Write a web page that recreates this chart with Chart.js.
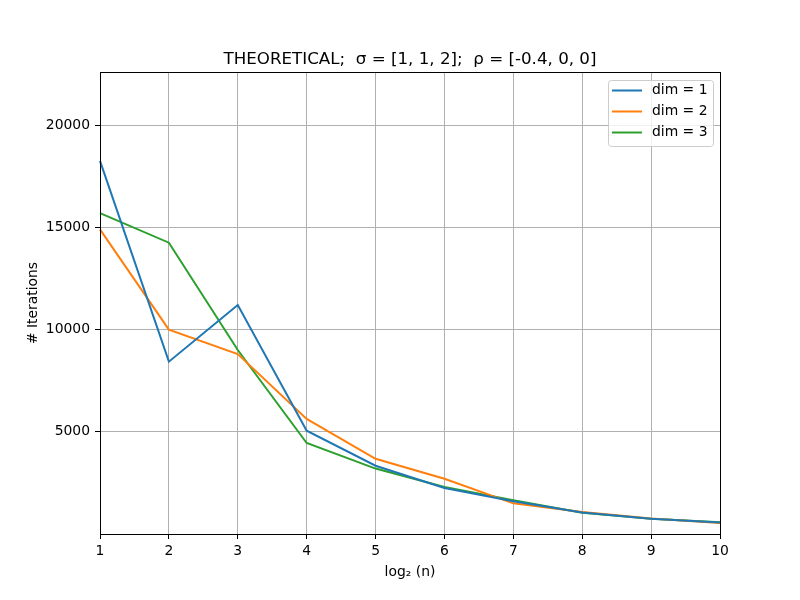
<!DOCTYPE html>
<html>
<head>
<meta charset="utf-8">
<script src="https://cdn.jsdelivr.net/npm/chart.js@4.4.1/dist/chart.umd.min.js"></script>
<style>
html,body{margin:0;padding:0;background:#fff;}
canvas{display:block;}
</style>
</head>
<body>
<canvas id="c" width="800" height="600"></canvas>
<script>
const categories = ['1','2','3','4','5','6','7','8','9','10'];
const dim1 = [18250, 8430, 11200, 5050, 3340, 2250, 1600, 1050, 750, 560];
const dim2 = [14900, 10000, 8800, 5630, 3680, 2700, 1500, 1080, 760, 540];
const dim3 = [15700, 14250, 9000, 4450, 3200, 2300, 1650, 1040, 740, 570];
const seriesLabels = ['dim = 1', 'dim = 2', 'dim = 3'];
const yTicks = [5000, 10000, 15000, 20000];
const titleText = 'THEORETICAL;  \u03c3 = [1, 1, 2];  \u03c1 = [-0.4, 0, 0]';
const xTitle = 'log\u2082 (n)';
const yTitle = '# Iterations';

Chart.defaults.font.family = "'DejaVu Sans', sans-serif";
Chart.defaults.color = '#000';

const FS = 13.9;

const framePlugin = {
  id: 'frame',
  afterDatasetsDraw(chart) {
    const {ctx, chartArea: a} = chart;
    ctx.save();
    ctx.strokeStyle = '#000';
    ctx.lineWidth = 1;
    const l = Math.round(a.left), t = Math.round(a.top), r = Math.round(a.right), b = Math.round(a.bottom);
    ctx.strokeRect(l + 0.5, t + 0.5, r - l, b - t);
    ctx.restore();
  },
  afterDraw(chart) {
    const {ctx, chartArea: a} = chart;
    const ds = chart.data.datasets;
    const w = 105, h = 66;
    const x0 = Math.round(a.right) - 7 - w, y0 = Math.round(a.top) + 8;
    ctx.save();
    ctx.fillStyle = 'rgba(255,255,255,0.8)';
    ctx.strokeStyle = '#cccccc';
    ctx.lineWidth = 1;
    ctx.beginPath();
    ctx.roundRect(x0 + 0.5, y0 + 0.5, w, h, 3);
    ctx.fill();
    ctx.stroke();
    ctx.font = FS + "px 'DejaVu Sans'";
    ctx.textBaseline = 'middle';
    ctx.textAlign = 'left';
    ds.forEach((d, i) => {
      const yy = y0 + 10.5 + i * 21;
      ctx.strokeStyle = d.borderColor;
      ctx.lineWidth = 2;
      ctx.beginPath();
      ctx.moveTo(x0 + 4, yy);
      ctx.lineTo(x0 + 34, yy);
      ctx.stroke();
      ctx.fillStyle = '#000';
      ctx.fillText(d.label, x0 + 44, yy);
    });
    ctx.restore();
  }
};

new Chart(document.getElementById('c'), {
  type: 'line',
  data: {
    labels: categories,
    datasets: [
      {label: seriesLabels[0], data: dim1, borderColor: '#1f77b4', backgroundColor: '#1f77b4'},
      {label: seriesLabels[1], data: dim2, borderColor: '#ff7f0e', backgroundColor: '#ff7f0e'},
      {label: seriesLabels[2], data: dim3, borderColor: '#2ca02c', backgroundColor: '#2ca02c'}
    ]
  },
  options: {
    responsive: false,
    animation: false,
    devicePixelRatio: 1,
    elements: {
      line: {borderWidth: 2, tension: 0},
      point: {radius: 0, hoverRadius: 0}
    },
    layout: {padding: {left: 0, right: 80, top: 0, bottom: 0}},
    plugins: {
      legend: {display: false},
      tooltip: {enabled: false},
      title: {
        display: true,
        text: titleText,
        fullSize: false,
        font: {size: 16.7, weight: 'normal', lineHeight: '20px'},
        padding: {top: 50, bottom: 2},
        color: '#000'
      }
    },
    scales: {
      x: {
        type: 'category',
        offset: false,
        grid: {color: '#b0b0b0', lineWidth: 1, tickColor: '#000', tickLength: 5, tickWidth: 1},
        border: {display: false},
        ticks: {font: {size: FS}, padding: 4, maxRotation: 0, autoSkip: false, color: '#000'},
        title: {display: true, text: xTitle, font: {size: FS}, padding: {top: 0, bottom: 19}, color: '#000'},
        afterFit(s) { s.height = 66; }
      },
      y: {
        min: 0,
        max: 22600,
        grid: {color: '#b0b0b0', lineWidth: 1, tickColor: '#000', tickLength: 5, tickWidth: 1},
        border: {display: false},
        afterBuildTicks(s) { s.ticks = yTicks.map(v => ({value: v})); },
        ticks: {font: {size: FS}, padding: 5, color: '#000', callback: v => String(v)},
        title: {display: true, text: yTitle, font: {size: FS}, padding: {top: 25, bottom: 0}, color: '#000'},
        afterFit(s) { s.width = 100; }
      }
    }
  },
  plugins: [framePlugin]
});
</script>
</body>
</html>
